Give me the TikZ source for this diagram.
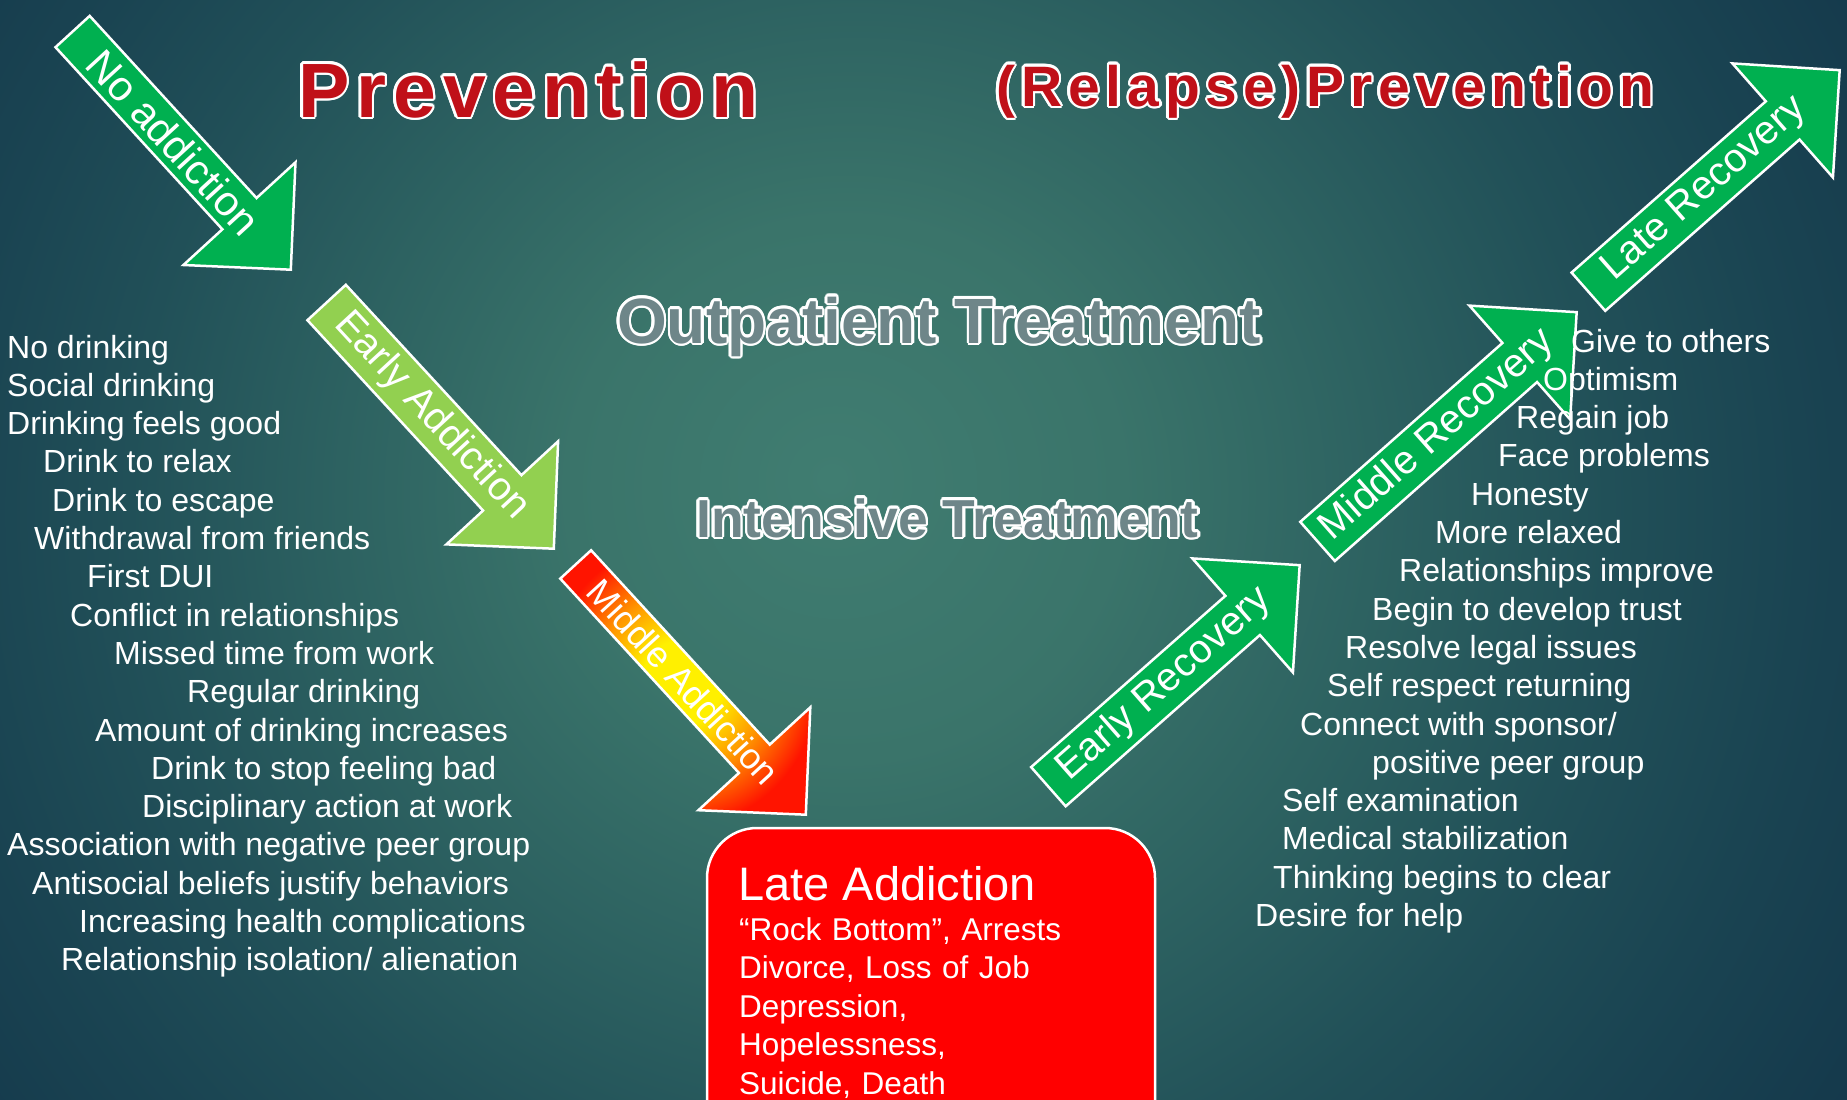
\documentclass[tikz,border=0pt]{standalone}
\usepackage{fontspec}
\setmainfont{Liberation Sans}
\newfontfamily\spacedtitle{Liberation Sans}[LetterSpace=9]
\newfontfamily\spacedsubtitle{Liberation Sans}[LetterSpace=10.4]
\usepackage[copies]{contour}
\usetikzlibrary{shapes.arrows}

\definecolor{bgcore}{RGB}{64,125,113}
\definecolor{bginner}{RGB}{58,116,106}
\definecolor{bgmid}{RGB}{45,98,97}
\definecolor{bgedge}{RGB}{33,80,88}
\definecolor{bgouter}{RGB}{26,68,82}
\definecolor{bgcorner}{RGB}{20,56,75}
\definecolor{titlered}{RGB}{192,16,24}
\definecolor{treatgray}{RGB}{110,134,137}
\definecolor{stagegreen}{RGB}{0,176,80}
\definecolor{limegreen}{RGB}{146,208,80}
\definecolor{hotyellow}{RGB}{255,240,0}
\definecolor{hotorange}{RGB}{255,150,0}
\definecolor{hotred}{RGB}{255,20,0}
\definecolor{boxred}{RGB}{255,0,0}

\pgfdeclareradialshading{bgglow}{\pgfpoint{-2.5bp}{2bp}}{color(0bp)=(bgcore); color(7.5bp)=(bginner); color(14bp)=(bgmid); color(20bp)=(bgedge); color(25bp)=(bgouter); color(31bp)=(bgcorner); color(50bp)=(bgcorner)}
\pgfdeclareradialshading{hotspot}{\pgfpoint{-1bp}{0bp}}{color(0bp)=(hotyellow); color(8bp)=(hotyellow); color(17bp)=(hotorange); color(27bp)=(hotred); color(50bp)=(hotred)}

\contourlength{2.5pt}

\begin{document}
\begin{tikzpicture}[x=1pt, y=-1pt,
    stage/.style={single arrow, draw=white, line width=2.5, text=white,
      minimum width=152, minimum height=335, single arrow head extend=38,
      single arrow tip angle=90, inner sep=0, anchor=tip,
      font=\fontsize{40}{40}\selectfont},
    item/.style={text=white, inner sep=0, anchor=base west,
      font=\fontsize{32}{38}\selectfont},
    heading/.style={inner sep=0, anchor=base west}]
    \useasboundingbox (0,0) rectangle (1847,1100);
    % glow is taller than the page so it fades mostly sideways
    \fill[shading=bgglow] (0,-350) rectangle (1847,1450);

    % Titles
    \node (prev) [heading, font=\fontsize{77}{80}\selectfont\spacedtitle\bfseries] at (298,117)
        {\contour{white}{\textcolor{titlered}{Prevention}}};
    \node (relapse) [heading, font=\fontsize{57}{60}\selectfont\spacedsubtitle\bfseries] at (996,106)
        {\contour{white}{\textcolor{titlered}{(Relapse)Prevention}}};
    \node (outpat) [heading, font=\fontsize{64}{66}\selectfont\bfseries] at (617,343)
        {\contour{white}{\textcolor{treatgray}{Outpatient Treatment}}};
    \node (intens) [heading, font=\fontsize{53.5}{56}\selectfont\bfseries] at (696,537)
        {\contour{white}{\textcolor{treatgray}{Intensive Treatment}}};

    % Addiction stages, going down
    \node (noadd) [stage, fill=stagegreen, rotate=-47.5, minimum height=323,
        font=\fontsize{42}{42}\selectfont] at (292,271) {No addiction};
    \node (earlyadd) [stage, fill=limegreen, rotate=-47.3] at (555,550) {Early Addiction};
    \node (middleadd) [stage, shading=hotspot, rotate=-47.4, minimum height=340,
        font=\fontsize{36}{36}\selectfont] at (807,816) {Middle Addiction};

    % Recovery stages, going up
    \node (earlyrec) [stage, fill=stagegreen, rotate=41.4] at (1301,564) {Early Recovery};
    \node (middlerec) [stage, fill=stagegreen, rotate=41.5, minimum height=346] at (1578,311) {Middle Recovery};
    \node (laterec) [stage, fill=stagegreen, rotate=41.4] at (1841,69) {Late Recovery};

    % Late addiction box
    \draw[fill=boxred, draw=white, line width=2.5, rounded corners=50] (707,828) rectangle (1155,1160);
    \node (latehead) [item, font=\fontsize{47}{50}\selectfont] at (738,900) {Late Addiction};
    \node (latebody) [item, text width=400, align=left, font=\fontsize{31.5}{38.4}\selectfont] at (739,940.5)
        {“Rock Bottom”, Arrests\\ Divorce, Loss of Job\\ Depression,\\ Hopelessness,\\ Suicide, Death};

    % Signs on the way down
    \node (r1) [item] at (7,358) {No drinking};
    \node (r2) [item] at (7,396.3) {Social drinking};
    \node (r3) [item] at (7,434.6) {Drinking feels good};
    \node (r4) [item] at (43,472.9) {Drink to relax};
    \node (r5) [item] at (52,511.2) {Drink to escape};
    \node (r6) [item] at (34,549.5) {Withdrawal from friends};
    \node (r7) [item] at (87,587.8) {First DUI};
    \node (r8) [item] at (70,626.1) {Conflict in relationships};
    \node (r9) [item] at (114,664.4) {Missed time from work};
    \node (r10) [item] at (187,702.7) {Regular drinking};
    \node (r11) [item] at (95,741) {Amount of drinking increases};
    \node (r12) [item] at (151,779.3) {Drink to stop feeling bad};
    \node (r13) [item] at (142,817.6) {Disciplinary action at work};
    \node (r14) [item] at (7,855.9) {Association with negative peer group};
    \node (r15) [item] at (32,894.2) {Antisocial beliefs justify behaviors};
    \node (r16) [item] at (79,932.5) {Increasing health complications};
    \node (r17) [item] at (61,970.8) {Relationship isolation/ alienation};

    % Signs on the way up
    \node (g1) [item] at (1571,352) {Give to others};
    \node (g2) [item] at (1543,390.3) {Optimism};
    \node (g3) [item] at (1516,428.6) {Regain job};
    \node (g4) [item] at (1498,466.9) {Face problems};
    \node (g5) [item] at (1471,505.2) {Honesty};
    \node (g6) [item] at (1435,543.5) {More relaxed};
    \node (g7) [item] at (1399,581.8) {Relationships improve};
    \node (g8) [item] at (1372,620.1) {Begin to develop trust};
    \node (g9) [item] at (1345,658.4) {Resolve legal issues};
    \node (g10) [item] at (1327,696.7) {Self respect returning};
    \node (g11) [item] at (1300,735) {Connect with sponsor/};
    \node (g12) [item] at (1372,773.3) {positive peer group};
    \node (g13) [item] at (1282,811.6) {Self examination};
    \node (g14) [item] at (1282,849.9) {Medical stabilization};
    \node (g15) [item] at (1273,888.2) {Thinking begins to clear};
    \node (g16) [item] at (1255,926.5) {Desire for help};
\end{tikzpicture}
\end{document}
